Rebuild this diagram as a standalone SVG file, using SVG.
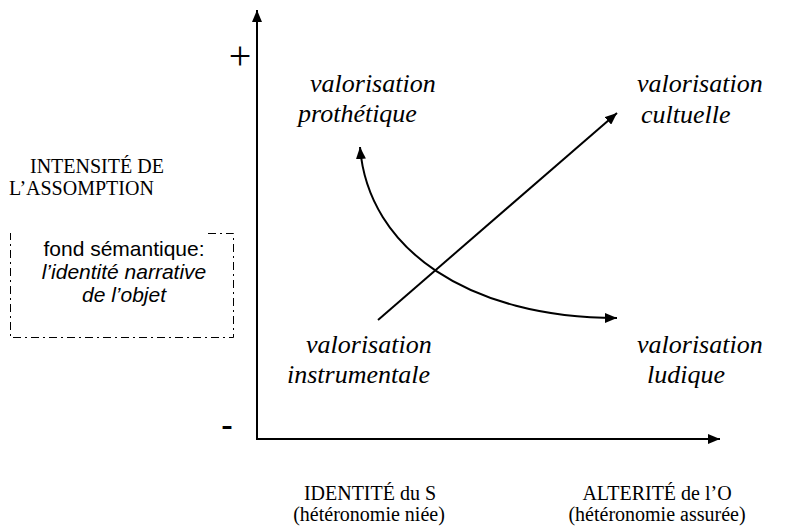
<svg xmlns="http://www.w3.org/2000/svg" width="791" height="527" viewBox="0 0 791 527">
<style>
.serif{font-family:"Liberation Serif","Times New Roman",serif;font-size:20px;fill:#000}
.val{font-family:"Liberation Serif",serif;font-style:italic;font-size:26px;fill:#000}
.sans{font-family:"Liberation Sans",Arial,sans-serif;font-size:21px;fill:#000}
.line{fill:none;stroke:#000;stroke-width:2}
</style>
<defs>
<marker id="ah" viewBox="0 0 12 10" refX="12" refY="5" markerWidth="12" markerHeight="10" markerUnits="userSpaceOnUse" orient="auto-start-reverse">
<path d="M0,0 L12,5 L0,10 Z" fill="#000"/>
</marker>
</defs>
<rect width="791" height="527" fill="#fff"/>
<g id="connectors">
<line class="line" x1="257" y1="440" x2="257" y2="10" marker-end="url(#ah)"/>
<line class="line" x1="256" y1="439" x2="720" y2="439" marker-end="url(#ah)"/>
<line class="line" x1="378" y1="320" x2="617" y2="113" marker-end="url(#ah)"/>
<path class="line" d="M360,147 C368,250 470,318 617,318" marker-start="url(#ah)" marker-end="url(#ah)"/>
</g>
<g id="axis-plus"><text x="240" y="69" text-anchor="middle" style="font-family:'Liberation Serif',serif;font-size:40px">+</text></g>
<g id="axis-minus"><text x="221" y="437" style="font-family:'Liberation Sans',sans-serif;font-size:36px">-</text></g>
<g id="y-label">
<text class="serif" x="30" y="173">INTENSITÉ DE</text>
<text class="serif" x="9" y="195">L’ASSOMPTION</text>
</g>
<g id="fond">
<path d="M208,233.5 H233.5 V337.5 H10.5 V233" fill="none" stroke="#000" stroke-width="1" stroke-dasharray="8,4,2,4"/>
<text class="sans" x="124" y="256" text-anchor="middle">fond sémantique:</text>
<text class="sans" x="124" y="279" text-anchor="middle" font-style="italic">l’identité narrative</text>
<text class="sans" x="124" y="302" text-anchor="middle" font-style="italic">de l’objet</text>
</g>
<g id="prothetique">
<text class="val" x="310" y="92">valorisation</text>
<text class="val" x="298" y="122">prothétique</text>
</g>
<g id="cultuelle">
<text class="val" x="637" y="92">valorisation</text>
<text class="val" x="641" y="123">cultuelle</text>
</g>
<g id="instrumentale">
<text class="val" x="306" y="353">valorisation</text>
<text class="val" x="287" y="383">instrumentale</text>
</g>
<g id="ludique">
<text class="val" x="637" y="353">valorisation</text>
<text class="val" x="647" y="383">ludique</text>
</g>
<g id="x-label-left">
<text class="serif" x="370" y="500" text-anchor="middle">IDENTITÉ du S</text>
<text class="serif" x="369" y="521" text-anchor="middle">(hétéronomie niée)</text>
</g>
<g id="x-label-right">
<text class="serif" x="657" y="500" text-anchor="middle">ALTERITÉ de l’O</text>
<text class="serif" x="657" y="521" text-anchor="middle">(hétéronomie assurée)</text>
</g>
</svg>
